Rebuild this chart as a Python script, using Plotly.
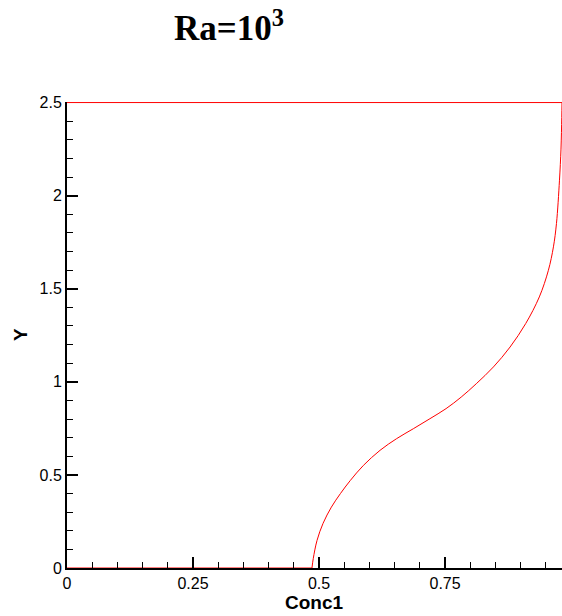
import plotly.graph_objects as go

# Data: Conc1 profile along Y
conc1 = [0.486, 0.4885, 0.496, 0.508, 0.5245, 0.5425, 0.562, 0.588, 0.621, 0.654,
         0.687, 0.720, 0.752, 0.782, 0.812, 0.846, 0.879, 0.910, 0.937, 0.955,
         0.965, 0.971, 0.977, 0.980, 0.9815, 0.982]
y_vals = [0.0, 0.05, 0.148, 0.24, 0.327, 0.40, 0.47, 0.551, 0.632, 0.695,
          0.748, 0.802, 0.856, 0.918, 0.99, 1.08, 1.187, 1.313, 1.456, 1.599,
          1.725, 1.85, 2.083, 2.25, 2.42, 2.5]
# boundary segments of the same line (bottom y=0 and top y=2.5)
bottom_x = [0.0, 0.486]
bottom_y = [0.0, 0.0]
top_x = [0.982, 0.0]
top_y = [2.5, 2.5]

x_ticks = [0, 0.25, 0.5, 0.75]
x_tick_labels = ["0", "0.25", "0.5", "0.75"]
y_ticks = [0, 0.5, 1, 1.5, 2, 2.5]
y_tick_labels = ["0", "0.5", "1", "1.5", "2", "2.5"]

red = "#ff0000"
fig = go.Figure()
fig.add_trace(go.Scatter(x=bottom_x, y=bottom_y, mode="lines",
                         line=dict(color=red, width=1), showlegend=False))
fig.add_trace(go.Scatter(x=conc1, y=y_vals, mode="lines",
                         line=dict(color=red, width=1, shape="spline", smoothing=1.0),
                         showlegend=False))
fig.add_trace(go.Scatter(x=top_x, y=top_y, mode="lines",
                         line=dict(color=red, width=1), showlegend=False))

W, H = 562, 616
fig.update_layout(
    width=W, height=H,
    margin=dict(l=67, r=0, t=102, b=48, autoexpand=False),
    paper_bgcolor="white", plot_bgcolor="white",
    font=dict(family="Liberation Sans, Arial", color="black", size=16),
    showlegend=False,
    title=dict(text="<b>Ra=10<sup>3</sup></b>", x=229 / W, xref="container", xanchor="center",
               y=1 - 28 / H, yref="container", yanchor="middle",
               font=dict(family="Liberation Serif, Times New Roman", size=35, color="black")),
)

fig.update_xaxes(range=[0, 0.982], showgrid=False, zeroline=False,
                 showline=True, linecolor="black", linewidth=2,
                 tickmode="array", tickvals=x_ticks, ticktext=x_tick_labels,
                 ticks="inside", ticklen=11, tickwidth=2, tickcolor="black",
                 tickfont=dict(size=16),
                 minor=dict(dtick=0.05, ticks="inside", ticklen=6, tickwidth=1,
                            tickcolor="black", showgrid=False))
fig.update_yaxes(range=[0, 2.503], showgrid=False, zeroline=False,
                 showline=True, linecolor="black", linewidth=2,
                 tickmode="array", tickvals=y_ticks, ticktext=y_tick_labels,
                 ticks="inside", ticklen=11, tickwidth=2, tickcolor="black",
                 tickfont=dict(size=16),
                 minor=dict(dtick=0.1, ticks="inside", ticklen=6, tickwidth=1,
                            tickcolor="black", showgrid=False))

fig.add_annotation(text="<b>Conc1</b>", xref="paper", yref="paper", x=0.5, y=-34 / 466,
                   xanchor="center", yanchor="middle", showarrow=False,
                   font=dict(size=19, color="black"))
fig.add_annotation(text="<b>Y</b>", xref="paper", yref="paper", x=-47 / 495, y=0.5,
                   xanchor="center", yanchor="middle", showarrow=False, textangle=-90,
                   font=dict(size=19, color="black"))

fig.write_html("out.html")
